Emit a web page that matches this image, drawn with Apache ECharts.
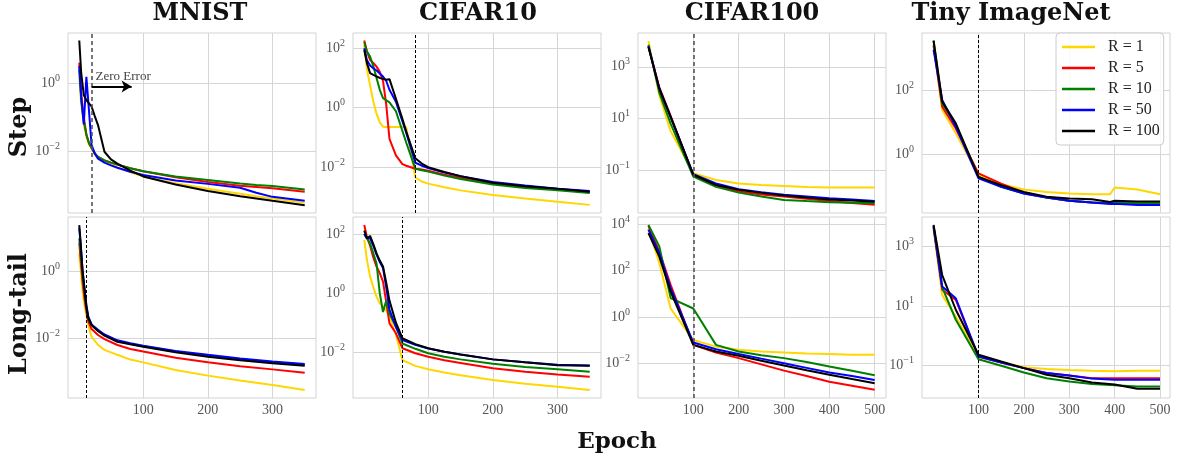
<!DOCTYPE html>
<html><head><meta charset="utf-8">
<script src="https://cdn.jsdelivr.net/npm/echarts@6/dist/echarts.min.js"></script>
<style>html,body{margin:0;padding:0;background:#fff}#c{width:1177px;height:457px}</style>
</head><body><div id="c"></div>
<script>
// ---------- text ----------
const seriesNames = ['R = 1', 'R = 5', 'R = 10', 'R = 50', 'R = 100'];
const datasetTitles = ['MNIST', 'CIFAR10', 'CIFAR100', 'Tiny ImageNet'];
const rowLabels = ['Step', 'Long-tail'];
const xAxisTitle = 'Epoch';
const annotationText = 'Zero Error';

// ---------- tick values ----------
const xTicksShort = [100, 200, 300];
const xTicksLong = [100, 200, 300, 400, 500];
const mnistStepYTicks = [1, 0.01];
const mnistLongTailYTicks = [1, 0.01];
const cifar10StepYTicks = [100, 1, 0.01];
const cifar10LongTailYTicks = [100, 1, 0.01];
const cifar100StepYTicks = [1000, 10, 0.1];
const cifar100LongTailYTicks = [10000, 100, 1, 0.01];
const tinyStepYTicks = [100, 1];
const tinyLongTailYTicks = [1000, 10, 0.1];

// epoch at which zero training error is reached (dashed lines), per panel
const zeroErrorEpochs = [20, 80, 100, 100, 12, 60, 100, 100];
const zeroErrorArrow = [20, 82, 0.8]; // from epoch, to epoch, loss level

// ---------- MNIST / Step ----------
const mnistStepEpochs = [1, 4, 8, 12, 16, 20, 25, 30, 40, 50, 60, 80, 100, 150, 200, 250, 275, 300, 350];
const mnistStepR1 = [1.6, 0.25, 0.063, 0.028, 0.016, 0.0126, 0.0083, 0.0063, 0.005, 0.0042, 0.0035, 0.0025, 0.0019, 0.0012, 8.3e-4, 5.9e-4, 5.0e-4, 4.3e-4, 3.2e-4];
const mnistStepR5 = [4.0, 0.5, 0.1, 0.032, 0.018, 0.013, 0.0089, 0.0071, 0.0056, 0.0048, 0.0042, 0.0033, 0.0027, 0.0018, 0.0013, 0.00102, 9.3e-4, 8.5e-4, 6.8e-4];
const mnistStepR10 = [2.5, 0.32, 0.079, 0.032, 0.018, 0.013, 0.0089, 0.0071, 0.0056, 0.0048, 0.0042, 0.0033, 0.0027, 0.0019, 0.0015, 0.00117, 0.00107, 0.0010, 7.9e-4];
const mnistStepR50 = [3.2, 0.4, 0.063, 1.55, 0.16, 0.016, 0.0089, 0.0063, 0.0048, 0.004, 0.0034, 0.0026, 0.0021, 0.00145, 0.00115, 8.9e-4, 6.3e-4, 4.8e-4, 3.7e-4];
const mnistStepR100 = [17.8, 2.0, 0.45, 0.32, 0.26, 0.21, 0.11, 0.060, 0.010, 0.0060, 0.0045, 0.0028, 0.0019, 0.0011, 7.1e-4, 5.0e-4, 4.3e-4, 3.7e-4, 2.75e-4];

// ---------- MNIST / Long-tail ----------
const mnistLongTailEpochs = [1, 3, 6, 9, 12, 15, 20, 30, 40, 60, 80, 100, 150, 200, 250, 300, 350];
const mnistLongTailR1 = [3.5, 1.26, 0.28, 0.1, 0.05, 0.025, 0.0112, 0.0063, 0.0045, 0.0032, 0.0023, 0.0019, 0.00112, 7.6e-4, 5.4e-4, 4.0e-4, 2.8e-4];
const mnistLongTailR5 = [7.1, 2.5, 0.5, 0.16, 0.063, 0.032, 0.019, 0.0126, 0.0095, 0.0063, 0.0048, 0.004, 0.0026, 0.0019, 0.00145, 0.00117, 9.3e-4];
const mnistLongTailR10 = [10, 4.0, 0.79, 0.25, 0.079, 0.04, 0.025, 0.0166, 0.0126, 0.0083, 0.0068, 0.0058, 0.004, 0.003, 0.0023, 0.0019, 0.0016];
const mnistLongTailR50 = [20, 7.1, 1.12, 0.32, 0.1, 0.045, 0.026, 0.018, 0.013, 0.0087, 0.0071, 0.006, 0.0042, 0.0032, 0.0025, 0.002, 0.0017];
const mnistLongTailR100 = [25, 7.9, 1.12, 0.32, 0.089, 0.040, 0.025, 0.0166, 0.012, 0.0079, 0.0066, 0.0056, 0.0038, 0.0028, 0.0022, 0.0018, 0.0015];

// ---------- CIFAR10 / Step ----------
const cifar10StepEpochs = [1, 5, 10, 15, 20, 25, 30, 35, 40, 50, 60, 66, 80, 90, 100, 125, 150, 200, 250, 300, 350];
const cifar10StepR1 = [129, 20, 5.6, 1.58, 0.63, 0.32, 0.23, 0.224, 0.224, 0.224, 0.224, 0.22, 0.0045, 0.0033, 0.0028, 0.0021, 0.00166, 0.00117, 8.9e-4, 6.9e-4, 5.4e-4];
const cifar10StepR5 = [182, 79, 40, 32, 24, 16, 7.9, 1.26, 0.089, 0.025, 0.0126, 0.0112, 0.0089, 0.0083, 0.0076, 0.0056, 0.0044, 0.0029, 0.0022, 0.0018, 0.00145];
const cifar10StepR10 = [158, 79, 52, 25, 10, 4.0, 2.1, 1.78, 1.5, 0.76, 0.166, 0.066, 0.0089, 0.0079, 0.0071, 0.0052, 0.004, 0.0026, 0.002, 0.00166, 0.00135];
const cifar10StepR50 = [100, 40, 26, 21, 17.8, 14.1, 11.2, 7.9, 4.0, 1.58, 0.35, 0.141, 0.0141, 0.0112, 0.0093, 0.0066, 0.005, 0.0032, 0.0024, 0.0019, 0.00158];
const cifar10StepR100 = [87, 32, 14.5, 12.6, 11.2, 10, 9.3, 8.7, 9.1, 2.0, 0.42, 0.158, 0.02, 0.0132, 0.01, 0.0069, 0.005, 0.003, 0.0023, 0.0019, 0.0015];

// ---------- CIFAR10 / Long-tail ----------
const cifar10LongTailEpochs = [1, 5, 10, 15, 20, 25, 30, 35, 40, 50, 60, 80, 100, 125, 150, 200, 250, 300, 350];
const cifar10LongTailR1 = [63, 14.1, 3.6, 1.58, 0.76, 0.45, 0.35, 0.25, 0.178, 0.04, 0.0055, 0.0035, 0.0027, 0.0021, 0.0017, 0.00117, 8.7e-4, 6.9e-4, 5.4e-4];
const cifar10LongTailR5 = [200, 79, 40, 16, 7.9, 4.7, 2.45, 0.5, 0.095, 0.044, 0.0138, 0.0093, 0.0071, 0.0054, 0.0044, 0.0029, 0.0022, 0.0018, 0.0015];
const cifar10LongTailR10 = [100, 71, 48, 22, 10, 1.0, 0.23, 0.56, 0.2, 0.074, 0.02, 0.0132, 0.0093, 0.0071, 0.0058, 0.0041, 0.0032, 0.0027, 0.0022];
const cifar10LongTailR50 = [100, 71, 71, 40, 20, 11.2, 7.1, 1.58, 0.28, 0.071, 0.026, 0.018, 0.0135, 0.0105, 0.0085, 0.0058, 0.0046, 0.0038, 0.0036];
const cifar10LongTailR100 = [129, 71, 85, 45, 22, 12.6, 7.9, 2.24, 0.56, 0.1, 0.03, 0.019, 0.0138, 0.0105, 0.0085, 0.0058, 0.0046, 0.0037, 0.0035];

// ---------- CIFAR100 ----------
const cifar100Epochs = [1, 25, 50, 100, 150, 200, 250, 300, 350, 400, 450, 500];
const cifar100StepR1 = [10000, 79, 3.2, 0.074, 0.041, 0.03, 0.026, 0.024, 0.022, 0.021, 0.021, 0.021];
const cifar100StepR5 = [6300, 158, 12.6, 0.063, 0.025, 0.0145, 0.0112, 0.0093, 0.0076, 0.0063, 0.0052, 0.0045];
const cifar100StepR10 = [7100, 100, 6.3, 0.055, 0.022, 0.0132, 0.0093, 0.0069, 0.0062, 0.0056, 0.0054, 0.0051];
const cifar100StepR50 = [6300, 141, 11.2, 0.068, 0.03, 0.018, 0.0138, 0.011, 0.0093, 0.0079, 0.0071, 0.0063];
const cifar100StepR100 = [5900, 145, 11.5, 0.065, 0.026, 0.017, 0.0129, 0.0102, 0.0085, 0.0072, 0.0065, 0.0059];
const cifar100LongTailR1 = [6300, 210, 2.3, 0.1, 0.052, 0.038, 0.032, 0.029, 0.026, 0.025, 0.023, 0.023];
const cifar100LongTailR5 = [8500, 660, 24, 0.062, 0.029, 0.0166, 0.0089, 0.0048, 0.0028, 0.0016, 0.00107, 7.1e-4];
const cifar100LongTailR10 = [9300, 1100, 6.5, 2.3, 0.062, 0.032, 0.022, 0.0166, 0.0112, 0.0072, 0.0047, 0.003];
const cifar100LongTailR50 = [5800, 560, 17.4, 0.078, 0.04, 0.025, 0.0158, 0.01, 0.0063, 0.004, 0.0028, 0.0019];
const cifar100LongTailR100 = [4100, 400, 12.3, 0.062, 0.032, 0.021, 0.0129, 0.0079, 0.005, 0.0032, 0.0021, 0.00138];

// ---------- Tiny ImageNet ----------
const tinyStepEpochs = [1, 20, 50, 100, 150, 200, 250, 300, 350, 390, 400, 450, 500];
const tinyStepR1 = [2500, 24, 4.5, 0.22, 0.115, 0.079, 0.066, 0.059, 0.056, 0.056, 0.091, 0.079, 0.056];
const tinyStepR5 = [2500, 30, 6.3, 0.25, 0.12, 0.062, 0.044, 0.035, 0.031, 0.029, 0.029, 0.028, 0.028];
const tinyStepR10 = [3500, 38, 8.1, 0.195, 0.095, 0.059, 0.044, 0.035, 0.031, 0.029, 0.0295, 0.029, 0.029];
const tinyStepR50 = [1800, 49, 7.1, 0.174, 0.095, 0.059, 0.044, 0.035, 0.031, 0.0275, 0.028, 0.0257, 0.0257];
const tinyStepR100 = [3500, 44, 9.1, 0.195, 0.107, 0.066, 0.047, 0.041, 0.039, 0.032, 0.035, 0.033, 0.033];
const tinyLongTailEpochs = [1, 20, 50, 100, 150, 200, 250, 300, 350, 400, 450, 500];
const tinyLongTailR1 = [4000, 23, 4.4, 0.186, 0.126, 0.085, 0.074, 0.069, 0.065, 0.062, 0.065, 0.065];
const tinyLongTailR5 = [4500, 35, 15.8, 0.195, 0.123, 0.079, 0.054, 0.045, 0.036, 0.036, 0.036, 0.036];
const tinyLongTailR10 = [5000, 42, 3.4, 0.158, 0.095, 0.056, 0.036, 0.028, 0.023, 0.021, 0.019, 0.019];
const tinyLongTailR50 = [4800, 45, 18, 0.195, 0.123, 0.079, 0.054, 0.045, 0.035, 0.032, 0.032, 0.032];
const tinyLongTailR100 = [5400, 110, 7.4, 0.224, 0.132, 0.079, 0.047, 0.036, 0.026, 0.022, 0.0158, 0.0158];

// ---------- layout & style ----------
const colors = ['#FFD700', '#FF0000', '#008000', '#0000FF', '#000000'];
const gridLefts = [68, 353, 638, 922];
const gridTops = [33, 217];
const gridHeights = [180, 181];
const gridWidth = 248;
const serif = 'Liberation Serif';
const boldSerif = 'DejaVu Serif';

const panels = [
  {row: 0, col: 0, epochs: mnistStepEpochs, values: [mnistStepR1, mnistStepR5, mnistStepR10, mnistStepR50, mnistStepR100], yTicks: mnistStepYTicks, xTicks: xTicksShort, xRange: [-16.45, 367.45], yRange: [1.62e-4, 29.5], dash: {color: '#555', width: 1.6, type: [4, 3]}},
  {row: 0, col: 1, epochs: cifar10StepEpochs, values: [cifar10StepR1, cifar10StepR5, cifar10StepR10, cifar10StepR50, cifar10StepR100], yTicks: cifar10StepYTicks, xTicks: xTicksShort, xRange: [-16.45, 367.45], yRange: [2.88e-4, 324], dash: {color: '#000', width: 1, type: [3, 2]}},
  {row: 0, col: 2, epochs: cifar100Epochs, values: [cifar100StepR1, cifar100StepR5, cifar100StepR10, cifar100StepR50, cifar100StepR100], yTicks: cifar100StepYTicks, xTicks: xTicksLong, xRange: [-22, 525], yRange: [2.14e-3, 20400], dash: {color: '#555', width: 1.6, type: [4, 3]}},
  {row: 0, col: 3, epochs: tinyStepEpochs, values: [tinyStepR1, tinyStepR5, tinyStepR10, tinyStepR50, tinyStepR100], yTicks: tinyStepYTicks, xTicks: xTicksLong, xRange: [-24.5, 522], yRange: [0.0145, 6030], dash: {color: '#000', width: 1, type: [3, 2]}},
  {row: 1, col: 0, epochs: mnistLongTailEpochs, values: [mnistLongTailR1, mnistLongTailR5, mnistLongTailR10, mnistLongTailR50, mnistLongTailR100], yTicks: mnistLongTailYTicks, xTicks: xTicksShort, xRange: [-16.45, 367.45], yRange: [1.62e-4, 43.6], dash: {color: '#000', width: 1, type: [3, 2]}},
  {row: 1, col: 1, epochs: cifar10LongTailEpochs, values: [cifar10LongTailR1, cifar10LongTailR5, cifar10LongTailR10, cifar10LongTailR50, cifar10LongTailR100], yTicks: cifar10LongTailYTicks, xTicks: xTicksShort, xRange: [-16.45, 367.45], yRange: [2.88e-4, 372], dash: {color: '#000', width: 1, type: [3, 2]}},
  {row: 1, col: 2, epochs: cifar100Epochs, values: [cifar100LongTailR1, cifar100LongTailR5, cifar100LongTailR10, cifar100LongTailR50, cifar100LongTailR100], yTicks: cifar100LongTailYTicks, xTicks: xTicksLong, xRange: [-22, 525], yRange: [3.16e-4, 20400], dash: {color: '#555', width: 1.6, type: [4, 3]}},
  {row: 1, col: 3, epochs: tinyLongTailEpochs, values: [tinyLongTailR1, tinyLongTailR5, tinyLongTailR10, tinyLongTailR50, tinyLongTailR100], yTicks: tinyLongTailYTicks, xTicks: xTicksLong, xRange: [-24.5, 522], yRange: [7.76e-3, 10000], dash: {color: '#000', width: 1, type: [3, 2]}}
];

function powLabel(v) {
  const e = Math.round(Math.log10(v));
  return '{b|10}{e|' + (e < 0 ? '\u2212' + (-e) : String(e)) + '}';
}

const grids = [], xAxes = [], yAxes = [], series = [];
panels.forEach(function (p, i) {
  grids.push({left: gridLefts[p.col], top: gridTops[p.row], width: gridWidth, height: gridHeights[p.row],
    show: true, borderColor: '#d3d3d3', borderWidth: 1, backgroundColor: '#ffffff', containLabel: false});
  xAxes.push({type: 'value', gridIndex: i, min: p.xRange[0], max: p.xRange[1],
    axisLine: {show: false}, axisTick: {show: false, customValues: p.xTicks},
    axisLabel: {show: p.row === 1, customValues: p.xTicks, margin: 5, fontFamily: serif, fontSize: 14, color: '#555'},
    splitLine: {show: true, lineStyle: {color: '#d6d6d6', width: 1}}});
  yAxes.push({type: 'log', logBase: 10, gridIndex: i, min: p.yRange[0], max: p.yRange[1],
    axisLine: {show: false}, axisTick: {show: false, customValues: p.yTicks},
    axisLabel: {show: true, customValues: p.yTicks, margin: 8, formatter: powLabel,
      rich: {b: {fontFamily: serif, fontSize: 14, color: '#555', lineHeight: 20},
             e: {fontFamily: serif, fontSize: 10, color: '#555', lineHeight: 12, verticalAlign: 'top'}}},
    splitLine: {show: true, lineStyle: {color: '#d6d6d6', width: 1}}});
  p.values.forEach(function (vals, s) {
    const item = {
      type: 'line', name: seriesNames[s], xAxisIndex: i, yAxisIndex: i,
      data: p.epochs.map(function (ep, k) { return [ep, vals[k]]; }),
      showSymbol: false, symbol: 'none', smooth: false, animation: false,
      lineStyle: {width: 2, color: colors[s]}, itemStyle: {color: colors[s]}, z: 2 + s
    };
    if (s === 4) {
      const mlData = [{xAxis: zeroErrorEpochs[i], lineStyle: p.dash, symbol: 'none', label: {show: false}}];
      if (i === 0) {
        mlData.push([
          {coord: [zeroErrorArrow[0], zeroErrorArrow[2]], symbol: 'none',
           lineStyle: {color: '#000', width: 2, type: 'solid'},
           label: {show: true, formatter: annotationText, position: 'insideStartTop', distance: 4,
                   fontFamily: serif, fontSize: 13, color: '#444'}},
          {coord: [zeroErrorArrow[1], zeroErrorArrow[2]], symbol: 'arrow', symbolSize: [9, 10]}
        ]);
      }
      item.markLine = {silent: true, symbol: ['none', 'none'], animation: false, z: 10, data: mlData};
    }
    series.push(item);
  });
});

const graphics = [];
const titleCenters = [200, 478, 752, 1011];
datasetTitles.forEach(function (t, c) {
  graphics.push({type: 'text', x: titleCenters[c], y: 14, silent: true,
    style: {text: t, font: 'bold 24px "' + boldSerif + '"', fill: '#111', align: 'center', verticalAlign: 'middle', textAlign: 'center', textVerticalAlign: 'middle'}});
});
const rowCenters = [127, 314];
rowLabels.forEach(function (t, r) {
  graphics.push({type: 'text', x: 20, y: rowCenters[r], rotation: Math.PI / 2, silent: true,
    style: {text: t, font: 'bold 24px "' + boldSerif + '"', fill: '#111', align: 'center', verticalAlign: 'middle', textAlign: 'center', textVerticalAlign: 'middle'}});
});
graphics.push({type: 'text', x: 617, y: 442, silent: true,
  style: {text: xAxisTitle, font: 'bold 23px "' + boldSerif + '"', fill: '#111', align: 'center', verticalAlign: 'middle', textAlign: 'center', textVerticalAlign: 'middle'}});

const chart = echarts.init(document.getElementById('c'), null, {renderer: 'canvas', width: 1177, height: 457});
chart.setOption({
  animation: false,
  backgroundColor: '#ffffff',
  grid: grids,
  xAxis: xAxes,
  yAxis: yAxes,
  series: series,
  legend: {
    show: true, orient: 'vertical', left: 1056, top: 33, data: seriesNames,
    icon: 'path://M0,0H33V2.4H0Z', symbolKeepAspect: true,
    itemWidth: 33, itemHeight: 14, itemGap: 5, padding: [6, 4, 6, 6],
    backgroundColor: 'rgba(255,255,255,0.85)', borderColor: '#cccccc', borderWidth: 1, borderRadius: 4,
    textStyle: {fontFamily: serif, fontSize: 16, color: '#222', padding: [0, 0, 0, 8]},
    selectedMode: false, z: 20
  },
  graphic: graphics
});
</script>
</body></html>
